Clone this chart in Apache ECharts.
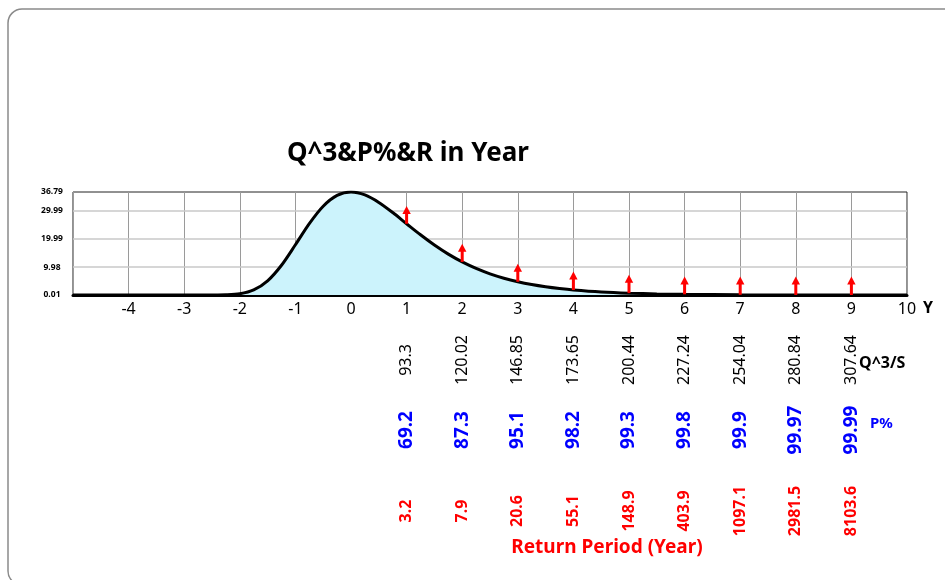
<!DOCTYPE html>
<html>
<head>
<meta charset="utf-8">
<script src="https://cdn.jsdelivr.net/npm/echarts@6/dist/echarts.min.js"></script>
<style>html,body{margin:0;padding:0;background:#fff;}#chart{width:945px;height:580px;}</style>
</head>
<body>
<div id="chart"></div>
<script>
// Curve (Q^3 density in year): x and y
var curveX = [-5, -4, -3, -2.75, -2.5, -2.25, -2, -1.75, -1.5, -1.25, -1, -0.75, -0.5, -0.25, 0, 0.25, 0.5, 0.75, 1, 1.25, 1.5, 1.75, 2, 2.25, 2.5, 2.75, 3, 3.25, 3.5, 3.75, 4, 4.5, 5, 5.5, 6, 7, 8, 9, 10];
var curveY = [0, 0, 0, 0, 0.006, 0.072, 0.457, 1.82, 5.07, 10.64, 17.94, 25.49, 31.70, 35.56, 36.79, 35.74, 33.07, 29.45, 25.46, 21.51, 17.85, 14.60, 11.82, 9.49, 7.56, 6.00, 4.74, 3.73, 2.93, 2.30, 1.80, 1.10, 0.67, 0.41, 0.25, 0.09, 0.03, 0.01, 0];

// Red arrows at each year
var arrowX = [1, 2, 3, 4, 5, 6, 7, 8, 9];
var arrowBase = [25.46, 11.82, 4.74, 1.80, 0.67, 0.25, 0.09, 0.03, 0.01];
var arrowTop = [31.8, 18.3, 11.2, 8.4, 7.2, 6.6, 6.6, 6.6, 6.6];

// Rows of values below the axis
var qValues = ['93.3', '120.02', '146.85', '173.65', '200.44', '227.24', '254.04', '280.84', '307.64'];
var pValues = ['69.2', '87.3', '95.1', '98.2', '99.3', '99.8', '99.9', '99.97', '99.99'];
var rValues = ['3.2', '7.9', '20.6', '55.1', '148.9', '403.9', '1097.1', '2981.5', '8103.6'];

// Axis ticks
var yTicks = [0.01, 9.98, 19.99, 29.99, 36.79];
var xMin = -5, xMax = 10;

var FONT = '"Noto Sans", "Open Sans", sans-serif';

function textRow(values, color, size, weight, offset) {
  return {
    type: 'custom',
    coordinateSystem: 'cartesian2d',
    silent: true,
    clip: false,
    z: 5,
    data: arrowX.map(function (x) { return [x, yTicks[0]]; }),
    renderItem: function (params, api) {
      var p = api.coord([api.value(0), api.value(1)]);
      return {
        type: 'text',
        x: p[0],
        y: p[1] + offset,
        rotation: Math.PI / 2,
        style: {
          text: values[params.dataIndex],
          fill: color,
          font: weight + ' ' + size + 'px ' + FONT,
          align: 'center',
          verticalAlign: 'middle'
        }
      };
    }
  };
}

var chart = echarts.init(document.getElementById('chart'));
chart.setOption({
  animation: false,
  backgroundColor: '#fff',
  title: {
    text: 'Q^3&P%&R in Year',
    left: 282,
    top: 136,
    textStyle: { fontFamily: FONT, fontSize: 26, fontWeight: 'bold', color: '#000' }
  },
  graphic: [
    { type: 'rect', shape: { x: 8, y: 9, width: 1000, height: 576, r: 14 }, style: { fill: 'none', stroke: '#8a8a8a', lineWidth: 1.5 }, z: -10 },
    { type: 'text', x: 859, y: 363, style: { text: 'Q^3/S', fill: '#000', font: 'bold 16px ' + FONT, verticalAlign: 'middle' } },
    { type: 'text', x: 870, y: 424, style: { text: 'P%', fill: '#0000ff', font: 'bold 15px ' + FONT, verticalAlign: 'middle' } },
    { type: 'text', x: 607, y: 548, style: { text: 'Return Period (Year)', fill: '#ff0000', font: 'bold 19px ' + FONT, align: 'center', verticalAlign: 'middle' } }
  ],
  grid: { left: 73, right: 38, top: 192, bottom: 285, show: true, borderColor: '#222', borderWidth: 1 },
  xAxis: {
    type: 'value',
    min: xMin,
    max: xMax,
    interval: 1,
    name: 'Y',
    nameLocation: 'end',
    nameGap: 16,
    nameTextStyle: { fontFamily: FONT, fontSize: 16, fontWeight: 'bold', color: '#000', verticalAlign: 'top', padding: [5, 0, 0, 0] },
    axisLine: { show: true, lineStyle: { color: '#000', width: 3 } },
    axisTick: { show: false },
    axisLabel: {
      margin: 6,
      fontFamily: FONT, fontSize: 16, color: '#000',
      formatter: function (v) { return v === xMin ? '' : String(v); }
    },
    splitLine: { show: true, lineStyle: { color: '#9a9a9a', width: 1 } }
  },
  yAxis: {
    type: 'value',
    min: yTicks[0],
    max: yTicks[yTicks.length - 1],
    axisLine: { show: true, lineStyle: { color: '#444', width: 1 } },
    axisTick: { show: false },
    axisLabel: {
      customValues: yTicks,
      showMinLabel: true,
      showMaxLabel: true,
      margin: 21,
      align: 'center',
      fontFamily: FONT, fontSize: 8.5, fontWeight: 'bold', color: '#000',
      formatter: function (v) { return String(v); }
    },
    splitLine: { show: false }
  },
  series: [
    {
      type: 'line',
      data: curveX.map(function (x, i) { return [x, curveY[i]]; }),
      smooth: 0.3,
      showSymbol: false,
      silent: true,
      lineStyle: { color: '#000', width: 3 },
      areaStyle: { color: '#ccf3fc', opacity: 1 },
      z: 3,
      markLine: {
        silent: true,
        symbol: 'none',
        label: { show: false },
        lineStyle: { color: '#c8c8c8', width: 1.5, type: 'solid' },
        data: yTicks.slice(1, yTicks.length - 1).map(function (v) { return { yAxis: v }; }),
        z: 1
      }
    },
    {
      type: 'custom',
      coordinateSystem: 'cartesian2d',
      silent: true,
      z: 6,
      data: arrowX.map(function (x, i) { return [x, arrowBase[i], arrowTop[i]]; }),
      renderItem: function (params, api) {
        var p0 = api.coord([api.value(0), api.value(1)]);
        var p1 = api.coord([api.value(0), api.value(2)]);
        var hh = 8, hw = 4.2;
        return {
          type: 'group',
          children: [
            { type: 'line', shape: { x1: p0[0], y1: p0[1], x2: p1[0], y2: p1[1] + hh - 1 }, style: { stroke: '#ff0000', lineWidth: 3 } },
            { type: 'polygon', shape: { points: [[p1[0], p1[1]], [p1[0] - hw, p1[1] + hh], [p1[0] + hw, p1[1] + hh]] }, style: { fill: '#ff0000' } }
          ]
        };
      }
    },
    textRow(qValues, '#000', 16, 'normal', 65),
    textRow(pValues, '#0000ff', 19, 'bold', 135),
    textRow(rValues, '#ff0000', 16, 'bold', 216)
  ]
});
</script>
</body>
</html>
